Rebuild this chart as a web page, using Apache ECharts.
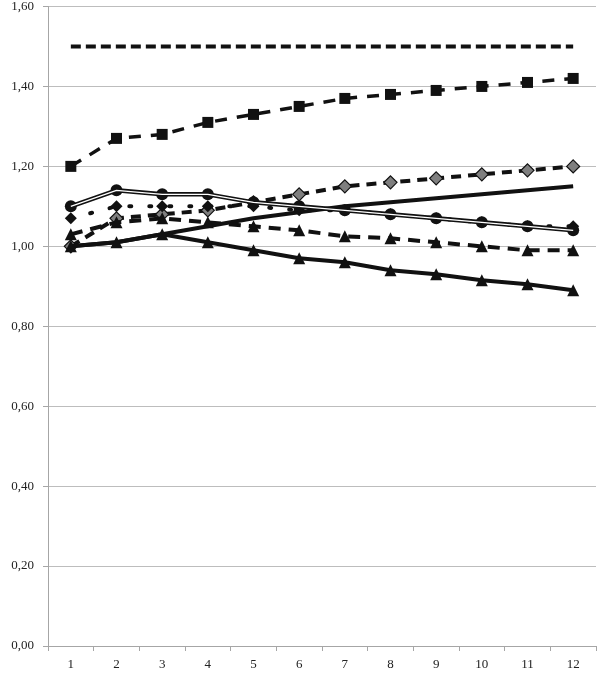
<!DOCTYPE html>
<html>
<head>
<meta charset="utf-8">
<script src="https://cdn.jsdelivr.net/npm/echarts@6/dist/echarts.min.js"></script>
<style>
    html, body { margin: 0; padding: 0; background: #fff; }
    #chart { width: 600px; height: 678px; }
</style>
</head>
<body>
<div id="chart"></div>
<script type="text/javascript">
    var categories = ['1', '2', '3', '4', '5', '6', '7', '8', '9', '10', '11', '12'];
    var flatLine    = [1.50, 1.50, 1.50, 1.50, 1.50, 1.50, 1.50, 1.50, 1.50, 1.50, 1.50, 1.50];
    var squares     = [1.20, 1.27, 1.28, 1.31, 1.33, 1.35, 1.37, 1.38, 1.39, 1.40, 1.41, 1.42];
    var grayDiamond = [1.00, 1.07, 1.08, 1.09, 1.11, 1.13, 1.15, 1.16, 1.17, 1.18, 1.19, 1.20];
    var rising      = [1.00, 1.01, 1.03, 1.05, 1.07, 1.085, 1.10, 1.11, 1.12, 1.13, 1.14, 1.15];
    var circles     = [1.10, 1.14, 1.13, 1.13, 1.11, 1.10, 1.09, 1.08, 1.07, 1.06, 1.05, 1.04];
    var blackDiamond= [1.07, 1.10, 1.10, 1.10, 1.10, 1.09, 1.09, 1.08, 1.07, 1.06, 1.05, 1.05];
    var dashTri     = [1.03, 1.06, 1.07, 1.06, 1.05, 1.04, 1.025, 1.02, 1.01, 1.00, 0.99, 0.99];
    var solidTri    = [1.00, 1.01, 1.03, 1.01, 0.99, 0.97, 0.96, 0.94, 0.93, 0.915, 0.905, 0.89];

    var chart = echarts.init(document.getElementById('chart'));
    var font = 'Liberation Serif';

    function line(name, data, opts) {
        var s = {
            name: name,
            type: 'line',
            data: data,
            symbol: opts.symbol || 'none',
            symbolSize: opts.size || 10,
            showSymbol: !!opts.symbol,
            lineStyle: { color: opts.color || '#111', width: opts.width || 4, type: opts.type || 'solid', cap: opts.cap || 'butt' },
            itemStyle: { color: opts.fill || '#111', borderColor: '#111', borderWidth: opts.border || 0 },
            z: opts.z || 2,
            animation: false,
            silent: true
        };
        return s;
    }

    var option = {
        animation: false,
        grid: { left: 48, right: 4, top: 6, bottom: 32 },
        xAxis: {
            type: 'category',
            data: categories,
            boundaryGap: true,
            axisLine: { lineStyle: { color: '#a6a6a6', width: 1 } },
            axisTick: { show: true, alignWithLabel: false, length: 5, lineStyle: { color: '#a6a6a6' } },
            axisLabel: { color: '#222', fontFamily: font, fontSize: 13, margin: 12 }
        },
        yAxis: {
            type: 'value',
            min: 0,
            max: 1.6,
            interval: 0.2,
            axisLine: { show: true, lineStyle: { color: '#a6a6a6', width: 1 } },
            axisTick: { show: true, length: 5, lineStyle: { color: '#a6a6a6' } },
            splitLine: { lineStyle: { color: '#bdbdbd', width: 1 } },
            axisLabel: {
                color: '#222', fontFamily: font, fontSize: 13, margin: 14,
                formatter: function (v) { return v.toFixed(2).replace('.', ','); }
            }
        },
        series: [
            line('grayDiamond', grayDiamond, { symbol: 'diamond', size: 13, type: [10, 7], width: 4, fill: '#7f7f7f', border: 1.2, z: 1 }),
            line('flat', flatLine, { type: [10, 5], width: 4 }),
            line('squares', squares, { symbol: 'rect', size: 11, type: [12, 10], width: 3.5 }),
            line('rising', rising, { width: 4 }),
            line('solidTri', solidTri, { symbol: 'triangle', size: 12, width: 4 }),
            line('dashTri', dashTri, { symbol: 'triangle', size: 12, type: [12, 8], width: 4 }),
            line('blackDiamond', blackDiamond, { symbol: 'diamond', size: 12, type: [2, 18], cap: 'round', width: 4 }),
            line('circles', circles, { symbol: 'circle', size: 12, width: 4.5, z: 4 }),
            line('circlesInner', circles, { color: '#ffffff', width: 1.4, z: 5 })
        ]
    };

    chart.setOption(option);
</script>
</body>
</html>
